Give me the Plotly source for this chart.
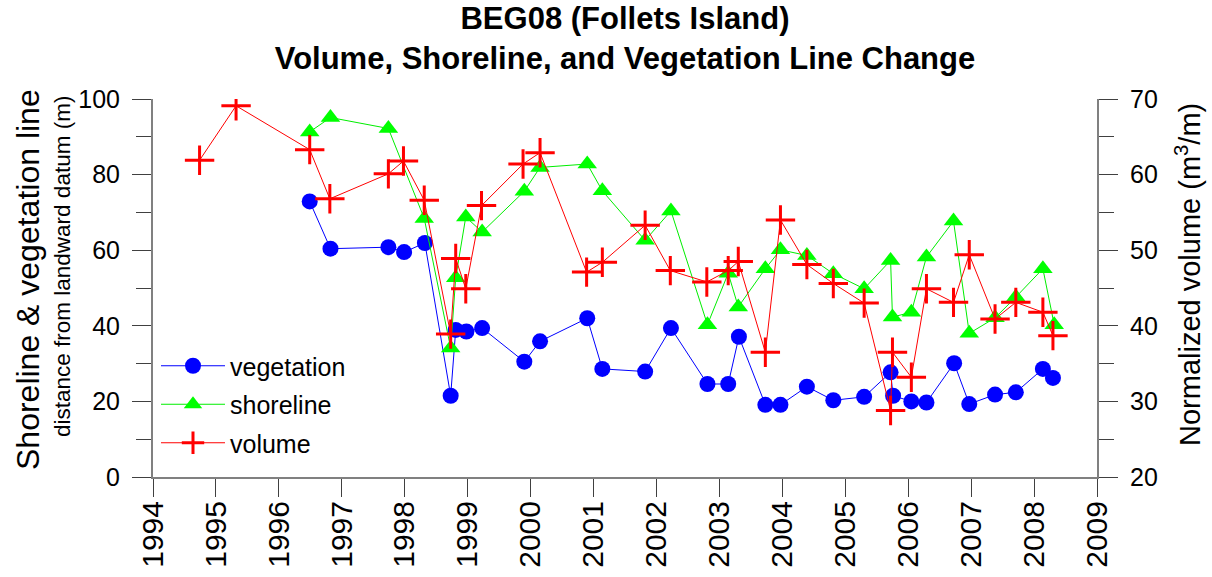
import plotly.graph_objects as go

# ---- data ----
veg_dates = [1996.49, 1996.82, 1997.74, 1997.99, 1998.32, 1998.73, 1998.81, 1998.98, 1999.23, 1999.90,
             2000.15, 2000.90, 2001.14, 2001.82, 2002.23, 2002.81, 2003.14, 2003.31, 2003.73, 2003.97,
             2004.39, 2004.81, 2005.30, 2005.72, 2005.76, 2006.05, 2006.29, 2006.73, 2006.97, 2007.38,
             2007.71, 2008.14, 2008.30]
vegetation = [72.9, 60.4, 60.8, 59.5, 61.9, 21.5, 38.9, 38.5, 39.4, 30.5,
              35.9, 42.0, 28.6, 27.9, 39.4, 24.6, 24.6, 37.1, 19.1, 19.1,
              23.9, 20.3, 21.2, 27.7, 21.5, 20.0, 19.7, 30.1, 19.3, 21.8,
              22.4, 28.6, 26.2]

shore_dates = [1996.49, 1996.82, 1997.74, 1998.31, 1998.73, 1998.81, 1998.97, 1999.23, 1999.90, 2000.15,
               2000.90, 2001.14, 2001.82, 2002.23, 2002.81, 2003.14, 2003.30, 2003.73, 2003.97, 2004.39,
               2004.81, 2005.30, 2005.72, 2005.75, 2006.05, 2006.29, 2006.72, 2006.97, 2007.38, 2007.71,
               2008.14, 2008.32]
shoreline = [91.3, 95.1, 92.2, 68.4, 34.1, 52.7, 68.8, 64.8, 75.6, 81.9,
             82.8, 75.7, 62.6, 70.4, 40.3, 53.9, 45.0, 55.1, 60.1, 58.6,
             53.8, 49.8, 57.3, 42.3, 43.6, 58.2, 67.7, 38.0, 42.1, 47.6,
             55.1, 40.3]

vol_dates = [1994.74, 1995.32, 1996.49, 1996.81, 1997.74, 1997.98, 1998.31, 1998.73, 1998.81, 1998.97,
             1999.22, 1999.88, 2000.15, 2000.89, 2001.14, 2001.82, 2002.22, 2002.80, 2003.14, 2003.30,
             2003.73, 2003.97, 2004.39, 2004.81, 2005.30, 2005.72, 2005.75, 2006.05, 2006.29, 2006.72,
             2006.97, 2007.38, 2007.71, 2008.14, 2008.30]
volume = [61.9, 69.1, 63.3, 56.8, 60.1, 61.8, 56.6, 38.9, 48.9, 44.9,
          55.9, 61.4, 62.9, 47.1, 48.4, 53.3, 47.3, 45.8, 47.3, 48.5,
          36.5, 54.0, 48.1, 45.6, 43.0, 28.8, 36.5, 33.2, 44.9, 43.1,
          49.4, 40.9, 43.1, 41.8, 38.7]

year_ticks = list(range(1994, 2010))

FONT = "Arial, Liberation Sans, sans-serif"

fig = go.Figure()
fig.add_trace(go.Scatter(
    x=veg_dates, y=vegetation, name="vegetation", mode="lines+markers",
    line=dict(color="#0000ff", width=1),
    marker=dict(symbol="circle", size=16, color="#0000ff"),
    legendgroup="a"))
fig.add_trace(go.Scatter(
    x=shore_dates, y=shoreline, name="shoreline", mode="lines+markers",
    line=dict(color="#00ee00", width=1),
    marker=dict(symbol="triangle-up", size=17, color="#00ff00"),
    legendgroup="b"))
fig.add_trace(go.Scatter(
    x=vol_dates, y=volume, name="volume", mode="lines+markers", yaxis="y2",
    line=dict(color="#ff0000", width=1),
    marker=dict(symbol="cross-thin", size=21, color="#ff0000",
                line=dict(color="#ff0000", width=3)),
    legendgroup="c"))

axis_line = "#808080"
tick_col = "#404040"

fig.update_layout(
    width=1212, height=577, autosize=False,
    margin=dict(l=153, r=115, t=99, b=100, pad=0, autoexpand=False),
    paper_bgcolor="white", plot_bgcolor="white",
    font=dict(family=FONT, color="black", size=25),
    title=dict(text="<b>BEG08 (Follets Island)<br>Volume, Shoreline, and Vegetation Line Change</b>",
               x=0.5, xref="paper", xanchor="center",
               y=1 - 29 / 577, yref="container", yanchor="middle",
               font=dict(family=FONT, size=31, color="black")),
    xaxis=dict(range=[1994, 2009], tickvals=year_ticks, ticktext=[str(y) for y in year_ticks],
               tickangle=-90, ticks="outside", ticklen=18, tickcolor=tick_col, tickwidth=1,
               showline=True, linecolor=axis_line, linewidth=2, showgrid=False, zeroline=False,
               tickfont=dict(size=30), ticklabelstandoff=-8, mirror=False, automargin=False),
    yaxis=dict(range=[0, 100], dtick=20, ticks="outside", ticklen=19, tickcolor=tick_col,
               minor=dict(dtick=10, ticks="outside", ticklen=15, tickcolor=tick_col, showgrid=False),
               showline=True, linecolor=axis_line, linewidth=2, showgrid=False, zeroline=False,
               tickfont=dict(size=25), ticklabelstandoff=7, automargin=False),
    yaxis2=dict(range=[20, 70], dtick=10, overlaying="y", side="right", anchor="x",
                ticks="outside", ticklen=19, tickcolor=tick_col,
                minor=dict(dtick=5, ticks="outside", ticklen=15, tickcolor=tick_col, showgrid=False),
                showline=True, linecolor=axis_line, linewidth=2, showgrid=False, zeroline=False,
                tickfont=dict(size=25), ticklabelstandoff=7, automargin=False),
    legend=dict(x=3 / 944, y=(477 - 343) / 378, xanchor="left", yanchor="top",
                bgcolor="rgba(0,0,0,0)", borderwidth=0, font=dict(size=25),
                itemwidth=64, tracegroupgap=3, traceorder="grouped"),
    showlegend=True,
)

fig.add_annotation(text="Shoreline & vegetation line", textangle=-90,
                   xref="paper", yref="paper", x=(28 - 153) / 944, y=(477 - 280) / 378,
                   xanchor="center", yanchor="middle", showarrow=False,
                   font=dict(size=32, family=FONT))
fig.add_annotation(text="distance from landward datum (m)", textangle=-90,
                   xref="paper", yref="paper", x=(62 - 153) / 944, y=(477 - 267) / 378,
                   xanchor="center", yanchor="middle", showarrow=False,
                   font=dict(size=22.5, family=FONT))
fig.add_annotation(text="Normalized volume (m<sup>3</sup>/m)", textangle=-90,
                   xref="paper", yref="paper", x=(1188 - 153) / 944, y=(477 - 275) / 378,
                   xanchor="center", yanchor="middle", showarrow=False,
                   font=dict(size=29, family=FONT))

fig.write_html("out.html", config={"displayModeBar": False},
               post_script="document.body.style.margin='0px';document.body.style.overflow='hidden';")
